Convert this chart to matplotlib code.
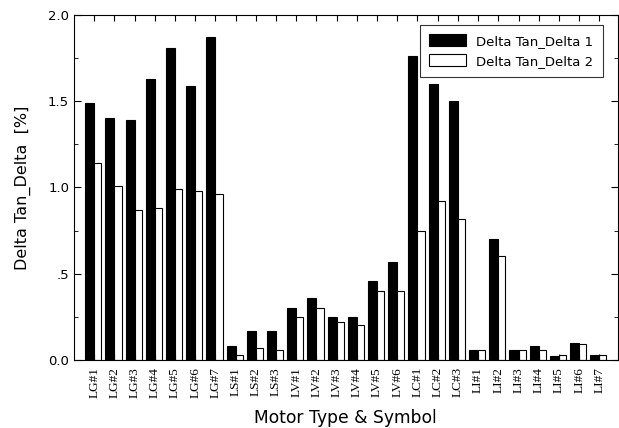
import matplotlib
matplotlib.use("Agg")
import matplotlib.pyplot as plt
import numpy as np
from matplotlib.ticker import MultipleLocator

labels = ["LG#1", "LG#2", "LG#3", "LG#4", "LG#5", "LG#6", "LG#7",
          "LS#1", "LS#2", "LS#3",
          "LV#1", "LV#2", "LV#3", "LV#4", "LV#5", "LV#6",
          "LC#1", "LC#2", "LC#3",
          "LI#1", "LI#2", "LI#3", "LI#4", "LI#5", "LI#6", "LI#7"]
delta1 = [1.49, 1.40, 1.39, 1.63, 1.81, 1.59, 1.87,
          0.08, 0.17, 0.17,
          0.30, 0.36, 0.25, 0.25, 0.46, 0.57,
          1.76, 1.60, 1.50,
          0.06, 0.70, 0.06, 0.08, 0.02, 0.10, 0.03]
delta2 = [1.14, 1.01, 0.87, 0.88, 0.99, 0.98, 0.96,
          0.03, 0.07, 0.06,
          0.25, 0.30, 0.22, 0.20, 0.40, 0.40,
          0.75, 0.92, 0.82,
          0.06, 0.60, 0.06, 0.06, 0.03, 0.09, 0.03]
ytick_vals = [0.0, 0.5, 1.0, 1.5, 2.0]
ytick_labels = ["0.0", ".5", "1.0", "1.5", "2.0"]

fig = plt.figure(figsize=(6.19, 4.28), dpi=100)
ax = fig.add_axes([0.1196, 0.159, 0.878, 0.806])

x = np.arange(len(labels))
ax.bar(x - 0.45, delta1, width=0.45, align="edge", color="black", edgecolor="black",
       linewidth=0.8, label="Delta Tan_Delta 1")
ax.bar(x, delta2, width=0.35, align="edge", color="white", edgecolor="black",
       linewidth=0.8, label="Delta Tan_Delta 2")

ax.set_xlim(-1.0, 25.9)
ax.set_ylim(0, 2.0)
ax.set_xticks(x)
ax.set_xticklabels(labels, rotation=90, fontfamily="Liberation Serif", fontsize=9.5)
ax.set_yticks(ytick_vals)
ax.set_yticklabels(ytick_labels, fontsize=9.5)
ax.yaxis.set_minor_locator(MultipleLocator(0.25))
ax.tick_params(axis="both", which="both", direction="in", top=True, right=True)
ax.tick_params(axis="x", which="major", length=4, pad=5)
ax.tick_params(axis="y", which="major", length=5)
ax.tick_params(axis="y", which="minor", length=3)

ax.set_xlabel("Motor Type & Symbol", fontsize=12.3, labelpad=8)
ax.set_ylabel("Delta Tan_Delta  [%]", fontsize=11.5, labelpad=12)

handles, lbls = ax.get_legend_handles_labels()
leg = ax.legend(handles, lbls, loc="upper right", fontsize=9.5, frameon=True, fancybox=False,
                edgecolor="black", handlelength=2.8, handleheight=1.0,
                bbox_to_anchor=(0.985, 0.99), borderpad=0.7)
leg.get_frame().set_linewidth(0.8)

fig.savefig("out.png", dpi=100)
